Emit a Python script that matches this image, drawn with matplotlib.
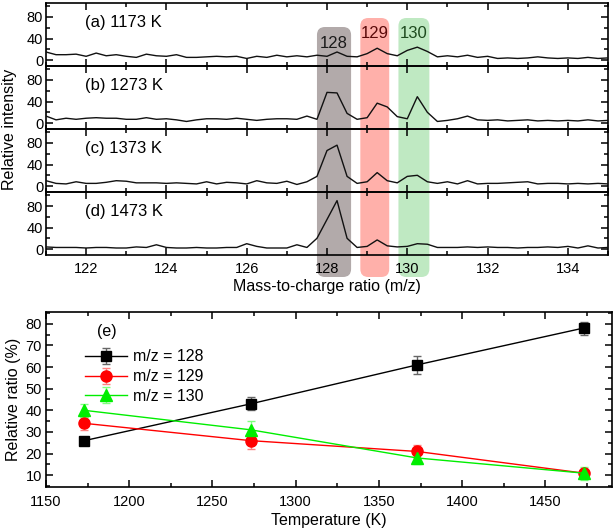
import matplotlib
matplotlib.use('Agg')
import matplotlib.pyplot as plt
from matplotlib.patches import FancyBboxPatch
from matplotlib.ticker import MultipleLocator
import numpy as np

plt.rcParams['font.family'] = ['Liberation Sans', 'DejaVu Sans']
plt.rcParams['font.size'] = 10.5

# m/z 网格 121 ~ 135, 步长 0.25
mz = np.arange(121, 135.001, 0.25)

spec_1173 = [15, 10, 10, 11, 7, 13, 8, 10, 7, 5, 11, 8, 7, 10, 5, 5, 6, 7, 6, 7, 3, 7, 5, 9, 6,
             8, 6, 9,
             7, 15, 7, 6, 12, 22, 12, 8, 18, 24, 16, 6, 8,
             6, 9, 5, 7, 3, 4, 3, 4, 6, 4, 3, 4, 3, 5, 3, 4]
spec_1273 = [13, 6, 9, 7, 9, 10, 9, 9, 7, 7, 10, 7, 8, 6, 3, 6, 8, 8, 7, 9, 7, 5, 7, 8, 8,
             7, 13, 7,
             57, 56, 18, 7, 10, 37, 30, 12, 8, 49, 20, 3, 5,
             8, 13, 6, 5, 6, 4, 5, 6, 4, 5, 4, 5, 4, 6, 4, 5]
spec_1373 = [10, 5, 4, 8, 5, 5, 7, 10, 9, 6, 6, 6, 5, 6, 5, 4, 8, 4, 7, 6, 4, 10, 6, 5, 9,
             3, 8, 18,
             66, 76, 18, 5, 8, 25, 10, 6, 18, 20, 8, 5, 8,
             4, 10, 4, 5, 5, 6, 7, 8, 4, 5, 5, 4, 5, 4, 5, 4]
spec_1473 = [4, 3, 3, 3, 2, 3, 3, 2, 2, 4, 3, 8, 3, 2, 2, 3, 2, 2, 3, 3, 10, 5, 2, 2, 2,
             8, 3, 20,
             55, 90, 20, 3, 5, 17, 6, 4, 5, 10, 9, 3, 3,
             3, 4, 3, 4, 3, 3, 2, 3, 3, 4, 3, 5, 2, 6, 2, 3]
spectra = [spec_1173, spec_1273, spec_1373, spec_1473]
panel_labels = ['(a) 1173 K', '(b) 1273 K', '(c) 1373 K', '(d) 1473 K']

# 色带 (m/z 范围)
bands = [(127.75, 128.6), (128.83, 129.55), (129.78, 130.55)]
band_names = ['128', '129', '130']
band_colors = ['#b2aaaa', '#ffb0aa', '#bfe9c2']
band_text_colors = ['#1a1a1a', '#5a0a0a', '#1e4a1e']

# 温度与相对比例
temps = [1173, 1273, 1373, 1473]
ratio_128 = [26, 43, 61, 78]
err_128 = [1.5, 3, 4, 3]
ratio_129 = [34, 26, 21, 11]
err_129 = [3, 4, 3, 2]
ratio_130 = [40, 31, 18, 11]
err_130 = [3, 4, 3, 3]

fig = plt.figure(figsize=(6.14, 5.32), dpi=100)
W, H = 614.0, 532.0

# 上方四个谱图
top, bottom = 3, 255
ph = (bottom - top) / 4.0
axes = []
for i in range(4):
    y0 = 1 - (top + ph * (i + 1)) / H
    ax = fig.add_axes([46 / W, y0, (608 - 46) / W, ph / H])
    ax.set_facecolor('none')
    ax.plot(mz, spectra[i], color='#111111', lw=1.0, zorder=3)
    ax.set_xlim(121, 135)
    ax.set_ylim(-11, 106)
    ax.set_yticks([0, 40, 80])
    ax.yaxis.set_minor_locator(MultipleLocator(20))
    ax.xaxis.set_major_locator(MultipleLocator(2))
    ax.xaxis.set_minor_locator(MultipleLocator(1))
    ax.tick_params(which='both', direction='in', top=True, right=True, width=1.1)
    ax.tick_params(which='major', length=5, labelsize=10.5, pad=2)
    ax.tick_params(which='minor', length=3)
    ax.tick_params(axis='x', pad=5)
    for s in ax.spines.values():
        s.set_linewidth(1.2)
    ax.text(0.07, 0.69, panel_labels[i], transform=ax.transAxes, fontsize=12, va='center')
    if i < 3:
        ax.tick_params(labelbottom=False)
    axes.append(ax)

axes[-1].set_xlabel('Mass-to-charge ratio (m/z)', fontsize=11.5, labelpad=2)
fig.text(10 / W, 1 - (top + bottom) / 2 / H, 'Relative intensity', rotation=90,
         fontsize=11.5, va='center', ha='center')

# 色带 (用英寸坐标画圆角矩形)
inv = fig.dpi_scale_trans.inverted()
band_tops = [27, 18, 18]
band_bottom = 277
for (x0, x1), name, fc, tc, bt in zip(bands, band_names, band_colors, band_text_colors, band_tops):
    px0 = axes[0].transData.transform((x0, 0))[0]
    px1 = axes[0].transData.transform((x1, 0))[0]
    ix0, _ = inv.transform((px0, 0))
    ix1, _ = inv.transform((px1, 0))
    iy_top = (H - bt) / 100.0
    iy_bot = (H - band_bottom) / 100.0
    r = 0.08
    box = FancyBboxPatch((ix0 + r, iy_bot + r), ix1 - ix0 - 2 * r, iy_top - iy_bot - 2 * r,
                         boxstyle='round,pad=%f,rounding_size=%f' % (r, r),
                         transform=fig.dpi_scale_trans, fc=fc, ec='none', zorder=-1)
    fig.patches.append(box)
    fig.text((ix0 + ix1) / 2 / 6.14, (H - bt - 16) / H, name, color=tc,
             fontsize=12, ha='center', va='center')

# 下方 (e) 图
ax2 = fig.add_axes([46 / W, 1 - 487 / H, (612 - 46) / W, (487 - 312) / H])
ax2.errorbar(temps, ratio_128, yerr=err_128, color='black', marker='s', ms=7, lw=1.0,
             ecolor='#666666', elinewidth=1.0, capsize=3, label='m/z = 128')
ax2.errorbar(temps, ratio_129, yerr=err_129, color='#ff0000', marker='o', ms=8, lw=1.0,
             ecolor='#ff8080', elinewidth=1.0, capsize=3, label='m/z = 129')
ax2.errorbar(temps, ratio_130, yerr=err_130, color='#00ee00', marker='^', ms=8, lw=1.0,
             ecolor='#80ff80', elinewidth=1.0, capsize=3, label='m/z = 130')
ax2.set_xlim(1150, 1490)
ax2.set_ylim(4.6, 85.4)
ax2.xaxis.set_major_locator(MultipleLocator(50))
ax2.xaxis.set_minor_locator(MultipleLocator(25))
ax2.yaxis.set_major_locator(MultipleLocator(10))
ax2.yaxis.set_minor_locator(MultipleLocator(5))
ax2.tick_params(which='both', direction='in', top=True, right=True, width=1.1)
ax2.tick_params(which='major', length=5, labelsize=10.5, pad=3)
ax2.tick_params(which='minor', length=3)
ax2.tick_params(axis='x', pad=6)
for s in ax2.spines.values():
    s.set_linewidth(1.2)
ax2.set_xlabel('Temperature (K)', fontsize=11.5, labelpad=3)
ax2.set_ylabel('Relative ratio (%)', fontsize=11.5, labelpad=3)
ax2.text(0.09, 0.89, '(e)', transform=ax2.transAxes, fontsize=11.5, va='center')
ax2.legend(loc='upper left', bbox_to_anchor=(0.05, 0.85), frameon=False, fontsize=11.5,
           handlelength=2.6, labelspacing=0.3, handletextpad=0.4, borderpad=0.2)

fig.savefig('out.png', dpi=100)
